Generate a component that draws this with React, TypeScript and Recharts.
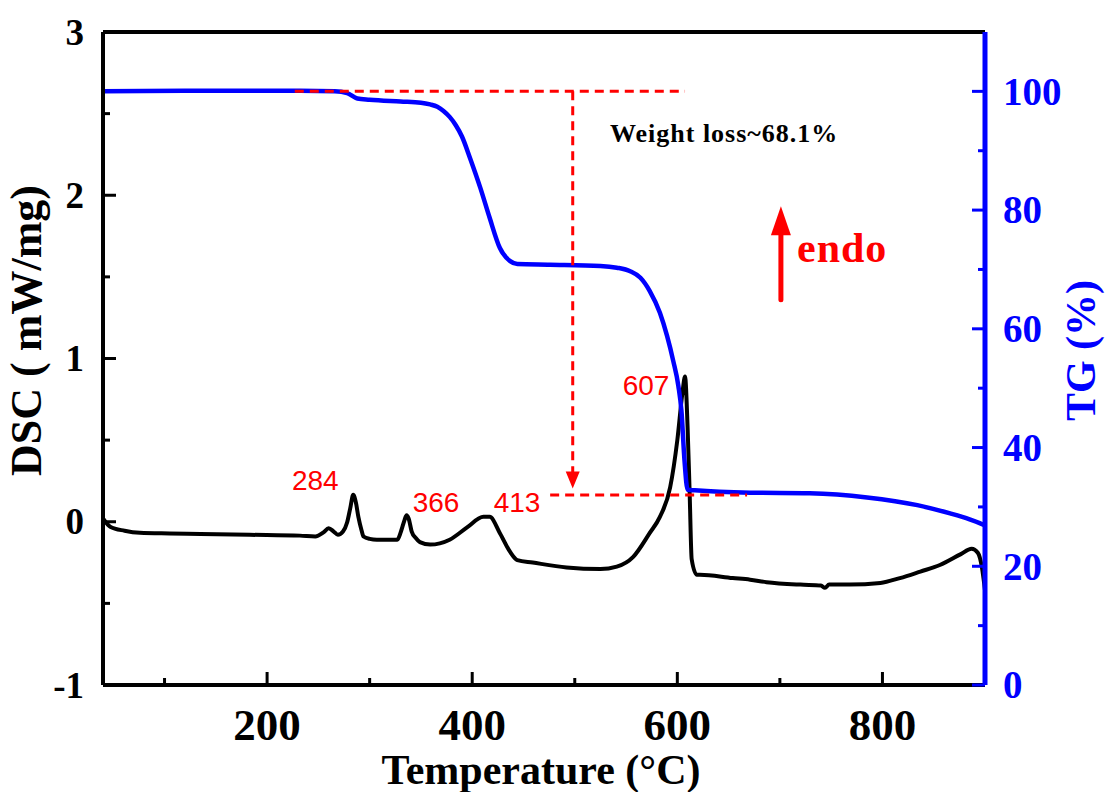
import React from 'react';
import { LineChart, Line, XAxis, YAxis, ReferenceLine, ReferenceDot } from 'recharts';

// DSC curve (mW/mg) vs temperature
const dscTemp = [
  40, 47, 61, 76, 105, 135, 183, 232, 247, 255, 260, 265, 269, 274, 278, 281, 284, 286.5, 289, 292,
  294, 300, 307, 327, 330, 332, 334, 336, 338, 341, 345, 349, 359, 378, 395, 411, 417, 427, 437, 444,
  459, 492, 525, 541, 557, 573, 583, 593, 600, 605, 607.5, 610, 612, 614, 619, 622, 654, 671, 687, 720,
  740, 744, 748, 768, 798, 817, 837, 856, 876, 887, 893, 897, 900,
];
const dscValue = [
  0.02, -0.03, -0.055, -0.068, -0.072, -0.075, -0.08, -0.085, -0.09, -0.065, -0.04, -0.06, -0.08, -0.06, -0.005, 0.08, 0.165, 0.12, 0.03, -0.05,
  -0.09, -0.105, -0.11, -0.11, -0.07, -0.03, 0.01, 0.04, 0.02, -0.06, -0.1, -0.125, -0.14, -0.11, -0.035, 0.03, 0.03, -0.07, -0.185, -0.235,
  -0.25, -0.28, -0.29, -0.275, -0.215, -0.07, 0.03, 0.21, 0.5, 0.79, 0.89, 0.58, 0.18, -0.23, -0.325, -0.325, -0.345, -0.355, -0.37, -0.385,
  -0.39, -0.405, -0.385, -0.385, -0.375, -0.345, -0.305, -0.265, -0.2, -0.165, -0.19, -0.28, -0.42,
];

// TG curve (%) vs temperature
const tgTemp = [
  40, 135, 232, 266, 278, 288, 300, 330, 350, 359, 366, 372, 378, 384, 390, 398, 408, 417, 427, 437, 444,
  476, 525, 541, 554, 564, 573, 583, 590, 596, 601, 604, 607, 610, 617, 671, 729, 785, 834, 866, 885, 900,
];
const tgValue = [
  100, 100.1, 100.1, 100, 99.7, 98.8, 98.6, 98.3, 98.1, 97.8, 97.4, 96.7, 95.7, 94.3, 92.4, 88.7, 83.7, 78.7, 73.6, 71.4, 70.9,
  70.8, 70.6, 70.3, 69.7, 68.6, 66.4, 62.7, 58.8, 54.6, 50.4, 46.2, 37.8, 32.9, 32.8, 32.4, 32.3, 31.6, 30.3, 28.9, 27.9, 26.9,
];

// axis ticks
const xTicks = [100, 200, 300, 400, 500, 600, 700, 800];
const xMajor = [200, 400, 600, 800];
const dscTicks = [-1, -0.5, 0, 0.5, 1, 1.5, 2, 2.5, 3];
const dscMajor = [-1, 0, 1, 2, 3];
const tgTicks = [0, 10, 20, 30, 40, 50, 60, 70, 80, 90, 100];
const tgMajor = [0, 20, 40, 60, 80, 100];

// peak labels
const peakLabels = ['284', '366', '413', '607'];
const peakLabelT = [247, 364.7, 443.7, 569.5];
const peakLabelDsc = [0.196, 0.061, 0.061, 0.779];

// weight loss annotation (TG %)
const lossStart = 100;
const lossEnd = 32;
const lossArrowT = 498;

const dscData = dscTemp.map((t, i) => ({ t, v: dscValue[i] }));
const tgData = tgTemp.map((t, i) => ({ t, v: tgValue[i] }));

const serif = "'Liberation Serif', 'Times New Roman', serif";
const sans = "'Liberation Sans', Arial, sans-serif";
const BLUE = '#0000ff';
const RED = '#ff0000';

const XTick = ({ x, y, payload }: any) => {
  const major = xMajor.includes(payload.value);
  return (
    <g>
      <line x1={x} x2={x} y1={y} y2={y - (major ? 13 : 7)} stroke="#000" strokeWidth={3} />
      {major && (
        <text x={x} y={y + 55} textAnchor="middle" fontFamily={serif} fontWeight="bold" fontSize={45} fill="#000">
          {payload.value}
        </text>
      )}
    </g>
  );
};

const DscTick = ({ x, y, payload }: any) => {
  const major = dscMajor.includes(payload.value);
  return (
    <g>
      <line x1={x} x2={x + (major ? 13 : 7)} y1={y} y2={y} stroke="#000" strokeWidth={3} />
      {major && (
        <text x={x - 19} y={y} dy="0.34em" textAnchor="end" fontFamily={serif} fontWeight="bold" fontSize={37} fill="#000">
          {payload.value}
        </text>
      )}
    </g>
  );
};

const TgTick = ({ x, y, payload }: any) => {
  const major = tgMajor.includes(payload.value);
  return (
    <g>
      <line x1={x} x2={x - (major ? 13 : 7)} y1={y} y2={y} stroke={BLUE} strokeWidth={3} />
      {major && (
        <text x={x + 18} y={y} dy="0.34em" textAnchor="start" fontFamily={serif} fontWeight="bold" fontSize={39} fill={BLUE}>
          {payload.value}
        </text>
      )}
    </g>
  );
};

const textShape = (label: string, props: any) => (p: any) => (
  <text x={p.cx} y={p.cy} {...props}>
    {label}
  </text>
);

const App: React.FC = () => {
  return (
    <div style={{ position: 'absolute', left: 0, top: 0 }}>
      <LineChart width={1106} height={792} margin={{ top: 32, right: 0, bottom: 0, left: 0 }}>
        <XAxis
          type="number"
          dataKey="t"
          domain={[40, 900]}
          allowDataOverflow
          ticks={xTicks}
          interval={0}
          height={107}
          tickSize={0}
          tickMargin={0}
          tickLine={false}
          axisLine={{ stroke: '#000', strokeWidth: 4 }}
          tick={<XTick />}
          label={{
            content: (p: any) => {
              const vb = p.viewBox;
              return (
                <text x={vb.x + vb.width / 2 - 3} y={vb.y + 99} textAnchor="middle" fontFamily={serif} fontWeight="bold" fontSize={42} fill="#000">
                  Temperature (°C)
                </text>
              );
            },
          }}
        />
        <YAxis
          yAxisId="dsc"
          orientation="left"
          width={103}
          domain={[-1, 3]}
          allowDataOverflow
          ticks={dscTicks}
          interval={0}
          tickSize={0}
          tickMargin={0}
          tickLine={false}
          axisLine={{ stroke: '#000', strokeWidth: 4 }}
          tick={<DscTick />}
          label={{
            content: (p: any) => {
              const vb = p.viewBox;
              const cx = vb.x + 41;
              const cy = vb.y + vb.height / 2 - 28;
              return (
                <text x={cx} y={cy} transform={`rotate(-90 ${cx} ${cy})`} textAnchor="middle" fontFamily={serif} fontWeight="bold" fontSize={44} fill="#000">
                  DSC ( mW/mg)
                </text>
              );
            },
          }}
        />
        <YAxis
          yAxisId="tg"
          orientation="right"
          width={121}
          domain={[0, 110]}
          allowDataOverflow
          ticks={tgTicks}
          interval={0}
          tickSize={0}
          tickMargin={0}
          tickLine={false}
          axisLine={{ stroke: BLUE, strokeWidth: 5 }}
          tick={<TgTick />}
          label={{
            content: (p: any) => {
              const vb = p.viewBox;
              const cx = vb.x + 110;
              const cy = vb.y + vb.height / 2 - 8;
              return (
                <text x={cx} y={cy} transform={`rotate(-90 ${cx} ${cy})`} textAnchor="middle" fontFamily={serif} fontWeight="bold" fontSize={42} fill={BLUE}>
                  TG (%)
                </text>
              );
            },
          }}
        />

        {/* top frame */}
        <ReferenceLine yAxisId="dsc" y={3} stroke="#000" strokeWidth={4} />

        <Line
          yAxisId="dsc"
          data={dscData}
          dataKey="v"
          type="monotone"
          stroke="#000"
          strokeWidth={4}
          dot={false}
          isAnimationActive={false}
        />
        <Line
          yAxisId="tg"
          data={tgData}
          dataKey="v"
          type="monotone"
          stroke={BLUE}
          strokeWidth={4.5}
          dot={false}
          isAnimationActive={false}
        />

        {/* weight loss guide lines */}
        <ReferenceLine
          yAxisId="tg"
          segment={[{ x: 227, y: lossStart }, { x: 607.5, y: lossStart }]}
          stroke={RED}
          strokeWidth={3}
          strokeDasharray="9 6"
        />
        <ReferenceLine
          yAxisId="tg"
          segment={[{ x: lossArrowT, y: lossStart }, { x: lossArrowT, y: 35.8 }]}
          stroke={RED}
          strokeWidth={3}
          strokeDasharray="9 6"
        />
        <ReferenceLine
          yAxisId="tg"
          segment={[{ x: 476, y: lossEnd }, { x: 668, y: lossEnd }]}
          stroke={RED}
          strokeWidth={3}
          strokeDasharray="9 6"
        />
        <ReferenceDot
          yAxisId="tg"
          x={lossArrowT}
          y={33.1}
          shape={(p: any) => (
            <path d={`M${p.cx},${p.cy} L${p.cx - 7},${p.cy - 17} L${p.cx + 7},${p.cy - 17} Z`} fill={RED} />
          )}
        />

        {/* endo arrow */}
        <ReferenceLine yAxisId="dsc" segment={[{ x: 701, y: 1.36 }, { x: 701, y: 1.8 }]} stroke={RED} strokeWidth={5} strokeLinecap="round" />
        <ReferenceDot
          yAxisId="dsc"
          x={701}
          y={1.933}
          shape={(p: any) => (
            <path d={`M${p.cx},${p.cy} L${p.cx - 10},${p.cy + 29} L${p.cx + 10},${p.cy + 29} Z`} fill={RED} />
          )}
        />

        {/* texts */}
        <ReferenceDot
          yAxisId="dsc"
          x={716.7}
          y={1.589}
          shape={textShape('endo', { fontFamily: serif, fontWeight: 'bold', fontSize: 42, fill: RED, letterSpacing: 1 })}
        />
        <ReferenceDot
          yAxisId="dsc"
          x={534.3}
          y={2.325}
          shape={textShape('Weight loss~68.1%', { fontFamily: serif, fontWeight: 'bold', fontSize: 26, fill: '#000', letterSpacing: 1 })}
        />
        {peakLabels.map((lab, i) => (
          <ReferenceDot
            key={lab}
            yAxisId="dsc"
            x={peakLabelT[i]}
            y={peakLabelDsc[i]}
            shape={textShape(lab, { fontFamily: sans, fontSize: 28, fill: RED, textAnchor: 'middle' })}
          />
        ))}
      </LineChart>
    </div>
  );
};

export default App;
